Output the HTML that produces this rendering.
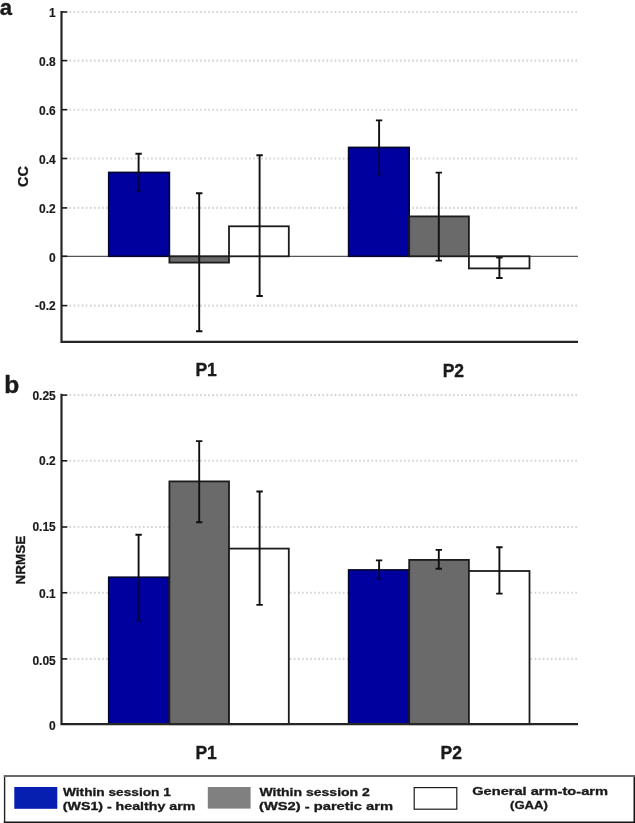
<!DOCTYPE html>
<html><head><meta charset="utf-8"><title>Figure</title>
<style>
html,body{margin:0;padding:0;background:#fff;}
body{width:635px;height:823px;overflow:hidden;font-family:"Liberation Sans",sans-serif;}
svg{display:block;filter:blur(0.45px);}
text{font-family:"Liberation Sans",sans-serif;font-weight:bold;fill:#1a1a1a;}
.tk{font-size:12px;text-anchor:end;stroke:#1a1a1a;stroke-width:0.15px;}
.pl{font-size:17.5px;text-anchor:middle;stroke:#1a1a1a;stroke-width:0.35px;}
.big{font-size:22px;stroke:#1a1a1a;stroke-width:0.4px;}
.lg{font-size:10.6px;stroke:#1a1a1a;stroke-width:0.3px;}
</style></head><body>
<svg width="635" height="823" viewBox="0 0 635 823">
<rect x="0" y="0" width="635" height="823" fill="#ffffff"/>

<line x1="69.45" y1="12.0" x2="578" y2="12.0" stroke="#d6d6d6" stroke-width="2.1" stroke-dasharray="1.7 2.38"/>
<line x1="69.45" y1="60.6" x2="578" y2="60.6" stroke="#d6d6d6" stroke-width="2.1" stroke-dasharray="1.7 2.38"/>
<line x1="69.45" y1="109.7" x2="578" y2="109.7" stroke="#d6d6d6" stroke-width="2.1" stroke-dasharray="1.7 2.38"/>
<line x1="69.45" y1="158.5" x2="578" y2="158.5" stroke="#d6d6d6" stroke-width="2.1" stroke-dasharray="1.7 2.38"/>
<line x1="69.45" y1="207.9" x2="578" y2="207.9" stroke="#d6d6d6" stroke-width="2.1" stroke-dasharray="1.7 2.38"/>
<line x1="69.45" y1="305.6" x2="578" y2="305.6" stroke="#d6d6d6" stroke-width="2.1" stroke-dasharray="1.7 2.38"/>
<line x1="61.5" y1="256.3" x2="578" y2="256.3" stroke="#2a2a2a" stroke-width="1"/>
<rect x="108.7" y="172.4" width="60.7" height="83.9" fill="#00009e" stroke="#06062a" stroke-width="1.6"/>
<rect x="169.4" y="256.3" width="59.599999999999994" height="6.300000000000011" fill="#6a6a6a" stroke="#1c1c1c" stroke-width="1.8"/>
<rect x="229.0" y="226.3" width="59.80000000000001" height="30.0" fill="#ffffff" stroke="#1c1c1c" stroke-width="1.8"/>
<rect x="348.6" y="147.4" width="60.599999999999966" height="108.9" fill="#00009e" stroke="#06062a" stroke-width="1.6"/>
<rect x="409.2" y="216.4" width="59.69999999999999" height="39.900000000000006" fill="#6a6a6a" stroke="#1c1c1c" stroke-width="1.8"/>
<rect x="468.9" y="256.3" width="60.60000000000002" height="12.099999999999966" fill="#ffffff" stroke="#1c1c1c" stroke-width="1.8"/>
<path d="M138.6 153.8V172.4M135.4 153.8H141.79999999999998" stroke="#111" stroke-width="1.9" fill="none"/>
<path d="M138.6 172.4V191.4M136.4 191.1H140.79999999999998" stroke="#04042c" stroke-width="1.8" fill="none" opacity="0.8"/>
<path d="M199.2 193.2V331.2M196.0 193.2H202.39999999999998M196.0 331.2H202.39999999999998" stroke="#111" stroke-width="1.9" fill="none"/>
<path d="M259.6 155.3V296M256.40000000000003 155.3H262.8M256.40000000000003 296H262.8" stroke="#111" stroke-width="1.9" fill="none"/>
<path d="M379.1 120.4V147.4M375.90000000000003 120.4H382.3" stroke="#111" stroke-width="1.9" fill="none"/>
<path d="M379.1 147.4V174.6M376.90000000000003 174.29999999999998H381.3" stroke="#04042c" stroke-width="1.8" fill="none" opacity="0.8"/>
<path d="M438.8 172.6V260.6M435.6 172.6H442.0M435.6 260.6H442.0" stroke="#111" stroke-width="1.9" fill="none"/>
<path d="M499.4 257.6V278M496.2 257.6H502.59999999999997M496.2 278H502.59999999999997" stroke="#111" stroke-width="1.9" fill="none"/>
<path d="M61.5 11.1V341.8H578" stroke="#262626" stroke-width="2.2" fill="none"/>
<line x1="61.5" y1="12.0" x2="67.3" y2="12.0" stroke="#1c1c1c" stroke-width="1.6"/>
<text class="tk" x="55.8" y="16.6">1</text>
<line x1="61.5" y1="60.6" x2="67.3" y2="60.6" stroke="#1c1c1c" stroke-width="1.6"/>
<text class="tk" x="55.8" y="66.3">0.8</text>
<line x1="61.5" y1="109.7" x2="67.3" y2="109.7" stroke="#1c1c1c" stroke-width="1.6"/>
<text class="tk" x="55.8" y="115.1">0.6</text>
<line x1="61.5" y1="158.5" x2="67.3" y2="158.5" stroke="#1c1c1c" stroke-width="1.6"/>
<text class="tk" x="55.8" y="163.9">0.4</text>
<line x1="61.5" y1="207.9" x2="67.3" y2="207.9" stroke="#1c1c1c" stroke-width="1.6"/>
<text class="tk" x="55.8" y="212.8">0.2</text>
<line x1="61.5" y1="256.3" x2="67.3" y2="256.3" stroke="#1c1c1c" stroke-width="1.6"/>
<text class="tk" x="55.8" y="261.6">0</text>
<line x1="61.5" y1="305.6" x2="67.3" y2="305.6" stroke="#1c1c1c" stroke-width="1.6"/>
<text class="tk" x="55.8" y="310.3">-0.2</text>
<text class="pl" x="206.15" y="375.9">P1</text>
<text class="pl" x="453.35" y="376.9">P2</text>
<text class="tk" style="text-anchor:middle;font-size:14.5px;stroke:#1a1a1a;stroke-width:0.3px" transform="translate(28.0,176.5) rotate(-90)">CC</text>
<text class="big" x="-0.2" y="14.8">a</text>
<line x1="69.45" y1="395.1" x2="578" y2="395.1" stroke="#d6d6d6" stroke-width="2.1" stroke-dasharray="1.7 2.38"/>
<line x1="69.45" y1="460.8" x2="578" y2="460.8" stroke="#d6d6d6" stroke-width="2.1" stroke-dasharray="1.7 2.38"/>
<line x1="69.45" y1="527.0" x2="578" y2="527.0" stroke="#d6d6d6" stroke-width="2.1" stroke-dasharray="1.7 2.38"/>
<line x1="69.45" y1="592.75" x2="578" y2="592.75" stroke="#d6d6d6" stroke-width="2.1" stroke-dasharray="1.7 2.38"/>
<line x1="69.45" y1="658.9" x2="578" y2="658.9" stroke="#d6d6d6" stroke-width="2.1" stroke-dasharray="1.7 2.38"/>
<rect x="108.7" y="577.2" width="60.7" height="147.0" fill="#00009e" stroke="#06062a" stroke-width="1.6"/>
<rect x="169.4" y="481.4" width="59.599999999999994" height="242.80000000000007" fill="#6a6a6a" stroke="#1c1c1c" stroke-width="1.8"/>
<rect x="229.0" y="548.6" width="59.80000000000001" height="175.60000000000002" fill="#ffffff" stroke="#1c1c1c" stroke-width="1.8"/>
<rect x="348.6" y="569.9" width="60.599999999999966" height="154.30000000000007" fill="#00009e" stroke="#06062a" stroke-width="1.6"/>
<rect x="409.2" y="559.9" width="59.69999999999999" height="164.30000000000007" fill="#6a6a6a" stroke="#1c1c1c" stroke-width="1.8"/>
<rect x="468.9" y="571" width="60.60000000000002" height="153.20000000000005" fill="#ffffff" stroke="#1c1c1c" stroke-width="1.8"/>
<path d="M138.6 534.8V577.2M135.4 534.8H141.79999999999998" stroke="#111" stroke-width="1.9" fill="none"/>
<path d="M138.6 577.2V621M136.4 620.7H140.79999999999998" stroke="#04042c" stroke-width="1.8" fill="none" opacity="0.8"/>
<path d="M199.2 441.1V522.2M196.0 441.1H202.39999999999998M196.0 522.2H202.39999999999998" stroke="#111" stroke-width="1.9" fill="none"/>
<path d="M259.6 491.5V604.9M256.40000000000003 491.5H262.8M256.40000000000003 604.9H262.8" stroke="#111" stroke-width="1.9" fill="none"/>
<path d="M379.1 560.4V569.9M375.90000000000003 560.4H382.3" stroke="#111" stroke-width="1.9" fill="none"/>
<path d="M379.1 569.9V579.4M376.90000000000003 579.1H381.3" stroke="#04042c" stroke-width="1.8" fill="none" opacity="0.8"/>
<path d="M438.8 549.9V568.8M435.6 549.9H442.0M435.6 568.8H442.0" stroke="#111" stroke-width="1.9" fill="none"/>
<path d="M499.4 547.2V593.6M496.2 547.2H502.59999999999997M496.2 593.6H502.59999999999997" stroke="#111" stroke-width="1.9" fill="none"/>
<path d="M61.5 393.8V724.2H578" stroke="#262626" stroke-width="2.2" fill="none"/>
<line x1="61.5" y1="395.1" x2="67.3" y2="395.1" stroke="#1c1c1c" stroke-width="1.6"/>
<text class="tk" x="55.8" y="399.6">0.25</text>
<line x1="61.5" y1="460.8" x2="67.3" y2="460.8" stroke="#1c1c1c" stroke-width="1.6"/>
<text class="tk" x="55.8" y="464.9">0.2</text>
<line x1="61.5" y1="527.0" x2="67.3" y2="527.0" stroke="#1c1c1c" stroke-width="1.6"/>
<text class="tk" x="55.8" y="531.2">0.15</text>
<line x1="61.5" y1="592.75" x2="67.3" y2="592.75" stroke="#1c1c1c" stroke-width="1.6"/>
<text class="tk" x="55.8" y="598.2">0.1</text>
<line x1="61.5" y1="658.9" x2="67.3" y2="658.9" stroke="#1c1c1c" stroke-width="1.6"/>
<text class="tk" x="55.8" y="664.6">0.05</text>
<line x1="61.5" y1="724.2" x2="67.3" y2="724.2" stroke="#1c1c1c" stroke-width="1.6"/>
<text class="tk" x="55.8" y="730.2">0</text>
<text class="pl" x="206.15" y="758.8">P1</text>
<text class="pl" x="451.2" y="758.8">P2</text>
<text class="tk" style="text-anchor:middle;font-size:13.5px;stroke:#1a1a1a;stroke-width:0.35px" transform="translate(25.2,560) rotate(-90)">NRMSE</text>
<text class="big" style="font-size:24.5px" x="4.2" y="392.8">b</text>
<path d="M634.3 775.1V823M3.8 822.3H635" stroke="#161616" stroke-width="1.6" fill="none"/><path d="M4.6 775.1V823" stroke="#222" stroke-width="1.4" fill="none"/>
<path d="M3.8 776H635" stroke="#6a6a6a" stroke-width="1.8" fill="none"/>
<rect x="14.3" y="787" width="43" height="21.8" fill="#061fb0"/>
<rect x="207.8" y="787" width="42.8" height="21.6" fill="#808080"/>
<rect x="414.2" y="787.6" width="42.6" height="21.6" fill="#fff" stroke="#1c1c1c" stroke-width="1.2"/>
<text class="lg" x="63" y="796.2" textLength="107.8" lengthAdjust="spacingAndGlyphs">Within session 1</text>
<text class="lg" x="62.8" y="810.2" textLength="132.5" lengthAdjust="spacingAndGlyphs">(WS1) - healthy arm</text>
<text class="lg" x="259.4" y="796.2" textLength="110.5" lengthAdjust="spacingAndGlyphs">Within session 2</text>
<text class="lg" x="259" y="810" textLength="134" lengthAdjust="spacingAndGlyphs">(WS2) - paretic arm</text>
<text class="lg" x="472.2" y="794.6" textLength="135.8" lengthAdjust="spacingAndGlyphs">General arm-to-arm</text>
<text class="lg" x="510" y="808.8" textLength="38" lengthAdjust="spacingAndGlyphs">(GAA)</text>
</svg></body></html>
